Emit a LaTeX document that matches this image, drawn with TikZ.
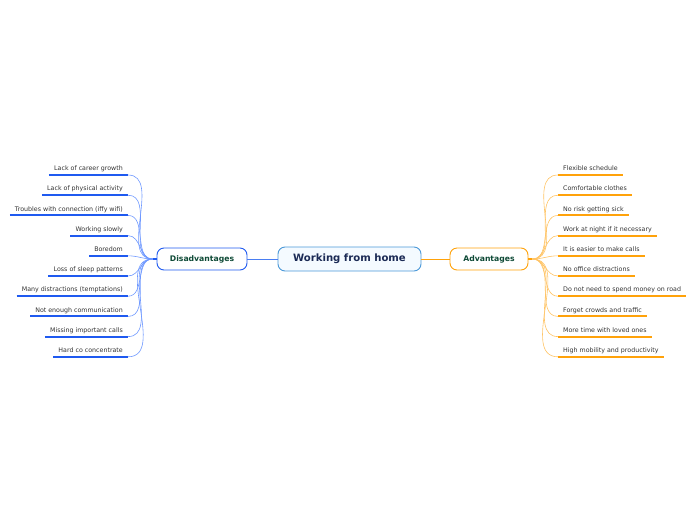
\documentclass[tikz,border=0pt]{standalone}
\usepackage{fontspec}
\setmainfont{DejaVu Sans}
\usetikzlibrary{positioning, calc}
\definecolor{cnavy}{HTML}{1B2A55}
\definecolor{cteal}{HTML}{0E4A36}
\definecolor{ctext}{HTML}{333333}
\definecolor{croot}{HTML}{4A98D8}
\definecolor{crootfill}{HTML}{F4FAFF}
\definecolor{cblue}{HTML}{1F5AF0}
\definecolor{cbluemid}{HTML}{4A7EF2}
\definecolor{cblueline}{HTML}{6E98FF}
\definecolor{corange}{HTML}{FFA20A}
\definecolor{corangeline}{HTML}{FFC466}
\tikzset{
  every picture/.style={x=1pt, y=-1pt},
  root/.style={draw=croot, fill=crootfill, rounded corners=7pt, line width=0.9pt,
    minimum width=143pt, minimum height=24pt, font=\bfseries\fontsize{10.1}{12}\selectfont, text=cnavy},
  branch/.style={draw=#1, fill=white, rounded corners=7pt, line width=0.9pt,
    minimum height=22pt, font=\bfseries\fontsize{7.7}{9}\selectfont, text=cteal},
  leaf/.style={inner xsep=5pt, inner ysep=2.5pt, text height=5pt, text depth=1.6pt,
    font=\fontsize{6.3}{7.5}\selectfont, text=ctext},
  uline/.style={draw=#1, line width=2pt},
  twig/.style={draw=#1, line width=0.6pt},
}

\begin{document}
\begin{tikzpicture}
  \useasboundingbox (0,0) rectangle (696,520);
  \node[root] (wfh) at (349.5,259) {Working from home};
  \node[branch=cblue, minimum width=90pt] (dis) at (202,259) {Disadvantages};
  \node[branch=corange, minimum width=78pt] (adv) at (489,259) {Advantages};
  \draw[cbluemid, line width=0.7pt] (dis) -- (wfh);
  \draw[corange, line width=0.7pt] (wfh) -- (adv);
  \coordinate (dhub) at ([xshift=-4pt]dis.west);
  \coordinate (ahub) at ([xshift=4pt]adv.east);
  \draw[cblue, line width=1.2pt] (dhub) -- (dis.west);
  \draw[corange, line width=1.2pt] (adv.east) -- (ahub);
  % disadvantages
  \foreach \txt [count=\i] in {Lack of career growth, Lack of physical activity,
      Troubles with connection (iffy wifi), Working slowly, Boredom,
      Loss of sleep patterns, Many distractions (temptations),
      Not enough communication, Missing important calls, Hard co concentrate} {
    \node[leaf, anchor=south east] (dis\i) at (128,{175+20.2*(\i-1)}) {\txt};
    \draw[uline=cblue] (dis\i.south west) -- (dis\i.south east);
    \draw[twig=cblueline] (dhub) to[out=180, in=0] (dis\i.south east);
  }
  % advantages
  \foreach \txt [count=\i] in {Flexible schedule, Comfortable clothes,
      No risk getting sick, Work at night if it necessary, It is easier to make calls,
      No office distractions, Do not need to spend money on road,
      Forget crowds and traffic, More time with loved ones,
      High mobility and productivity} {
    \node[leaf, anchor=south west] (adv\i) at (558,{175+20.2*(\i-1)}) {\txt};
    \draw[uline=corange] (adv\i.south west) -- (adv\i.south east);
    \draw[twig=corangeline] (ahub) to[out=0, in=180] (adv\i.south west);
  }
\end{tikzpicture}
\end{document}
